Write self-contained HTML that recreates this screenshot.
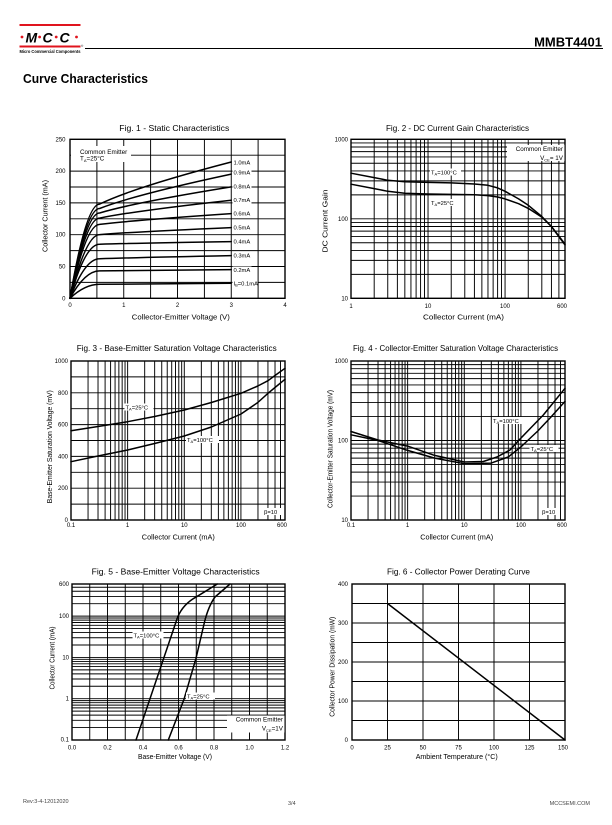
<!DOCTYPE html>
<html>
<head>
<meta charset="utf-8">
<style>
html,body{margin:0;padding:0;background:#fff;}
body{width:612px;height:825px;overflow:hidden;position:relative;}
svg{position:absolute;left:0;top:0;}
text{font-family:"Liberation Sans",Arial,sans-serif;fill:#000;}
.g{stroke:#000;stroke-width:0.95;fill:none;}
.f{stroke:#000;stroke-width:1.4;fill:none;}
.c{stroke:#000;stroke-width:1.5;fill:none;stroke-linejoin:round;stroke-linecap:round;}
.t{font-size:8.2px;}
.a{font-size:7.4px;}
.k{font-size:6px;}
.l{font-size:5.8px;}
</style>
</head>
<body>
<svg width="612" height="825" viewBox="0 0 612 825" xmlns="http://www.w3.org/2000/svg">
<!-- Header -->
<rect x="19.5" y="24" width="61" height="2" fill="#e0141e"/>
<rect x="19.5" y="45.5" width="61" height="2" fill="#e0141e"/>
<circle cx="22" cy="37" r="1.4" fill="#e0141e"/>
<circle cx="39.6" cy="37" r="1.4" fill="#e0141e"/>
<circle cx="56.2" cy="37" r="1.4" fill="#e0141e"/>
<circle cx="76.5" cy="37" r="1.4" fill="#e0141e"/>
<text x="25.5" y="42.5" style="font-size:14px;font-weight:bold;font-style:italic;">M</text>
<text x="42.5" y="42.5" style="font-size:14px;font-weight:bold;font-style:italic;">C</text>
<text x="59.5" y="42.5" style="font-size:14px;font-weight:bold;font-style:italic;">C</text>
<text x="19.5" y="53" style="font-size:4.4px;font-weight:bold;" textLength="61" lengthAdjust="spacingAndGlyphs">Micro Commercial Components</text>
<text x="81" y="47" style="font-size:3px;">®</text>
<line x1="85" y1="48.5" x2="603" y2="48.5" stroke="#000" stroke-width="1"/>
<text x="602" y="46.5" text-anchor="end" style="font-size:13px;font-weight:bold;">MMBT4401</text>
<text x="23" y="83" style="font-size:12.5px;font-weight:bold;" textLength="125" lengthAdjust="spacingAndGlyphs">Curve Characteristics</text>

<!-- ================= Fig 1 ================= -->
<text class="t" x="119.3" y="130.8" textLength="110" lengthAdjust="spacingAndGlyphs">Fig. 1 - Static Characteristics</text>
<path class="g" d="M96.9,139.3V298.3M123.75,139.3V298.3M150.6,139.3V298.3M177.5,139.3V298.3M204.4,139.3V298.3M231.25,139.3V298.3M258.1,139.3V298.3M70,155.2H285M70,171.1H285M70,187H285M70,202.9H285M70,218.8H285M70,234.7H285M70,250.6H285M70,266.5H285M70,282.4H285"/>
<rect class="f" x="70" y="139.3" width="215" height="159"/>
<g class="c">
<path d="M70,298.3Q85,284.3 99.6,284.3Q134.5,283.9 231.25,283.3"/>
<path d="M70,298.3Q85,270.9 99.6,270.9Q134.5,270.4 231.25,269.6"/>
<path d="M70,298.3Q85,258.8 99.6,258.8Q134.5,257.5 231.25,255.6"/>
<path d="M70,298.3Q85,244.2 99.6,244.2Q134.5,243.2 231.25,241.6"/>
<path d="M70,298.3Q86,234.6 99.6,234.6Q134.5,231.8 231.25,227.6"/>
<path d="M70,298.3Q86,224.4 99.6,224.4Q134.5,220.1 231.25,213.6"/>
<path d="M70,298.3Q86,218.1 99.6,218.1Q134.5,210.9 231.25,200.2"/>
<path d="M70,298.3Q86,213 99.6,213Q134.5,202.5 231.25,186.9"/>
<path d="M70,298.3Q86,208.5 99.6,208.5Q134.5,194.8 231.25,174.1"/>
<path d="M70,298.3Q86,204.1 99.6,204.1Q134.5,187.2 231.25,162"/>
</g>
<rect x="71" y="146" width="60" height="16" fill="#fff"/>
<text class="l" x="80" y="154" style="font-size:6.3px;">Common Emitter</text>
<text class="l" x="80" y="160.6" style="font-size:6.3px;">T<tspan font-size="4" dy="1.3">A</tspan><tspan dy="-1.3">=25°C</tspan></text>
<g fill="#fff">
<rect x="232.5" y="158.8" width="19" height="7"/>
<rect x="232.5" y="169.2" width="19" height="7"/>
<rect x="232.5" y="183.2" width="19" height="7"/>
<rect x="232.5" y="196.5" width="19" height="7"/>
<rect x="232.5" y="210.2" width="19" height="7"/>
<rect x="232.5" y="224.2" width="19" height="7"/>
<rect x="232.5" y="238.2" width="19" height="7"/>
<rect x="232.5" y="252.2" width="19" height="7"/>
<rect x="232.5" y="266.5" width="19" height="7"/>
<rect x="232.5" y="279.8" width="25" height="7"/>
</g>
<g class="l">
<text x="233.5" y="164.3">1.0mA</text>
<text x="233.5" y="174.7">0.9mA</text>
<text x="233.5" y="188.7">0.8mA</text>
<text x="233.5" y="202">0.7mA</text>
<text x="233.5" y="215.7">0.6mA</text>
<text x="233.5" y="229.7">0.5mA</text>
<text x="233.5" y="243.7">0.4mA</text>
<text x="233.5" y="257.7">0.3mA</text>
<text x="233.5" y="272">0.2mA</text>
<text x="233.5" y="285.3">I<tspan font-size="4" dy="1.3">B</tspan><tspan dy="-1.3">=0.1mA</tspan></text>
</g>
<g class="k" text-anchor="end">
<text x="65.5" y="141.3">250</text>
<text x="65.5" y="173">200</text>
<text x="65.5" y="204.8">150</text>
<text x="65.5" y="236.6">100</text>
<text x="65.5" y="268.5">50</text>
<text x="65.5" y="300.3">0</text>
</g>
<g class="k" text-anchor="middle">
<text x="70" y="307">0</text>
<text x="123.75" y="307">1</text>
<text x="177.5" y="307">2</text>
<text x="231.25" y="307">3</text>
<text x="285" y="307">4</text>
</g>
<text class="a" x="180.8" y="319.3" text-anchor="middle" textLength="98" lengthAdjust="spacingAndGlyphs">Collector-Emitter Voltage (V)</text>
<text class="a" transform="translate(47.6,216) rotate(-90)" text-anchor="middle" textLength="72" lengthAdjust="spacingAndGlyphs">Collector Current (mA)</text>

<!-- ================= Fig 2 ================= -->
<text class="t" x="386" y="130.8" textLength="143" lengthAdjust="spacingAndGlyphs">Fig. 2 - DC Current Gain Characteristics</text>
<path class="g" d="M374.19,139.3V298.3M387.75,139.3V298.3M397.38,139.3V298.3M404.84,139.3V298.3M410.94,139.3V298.3M416.1,139.3V298.3M420.57,139.3V298.3M424.5,139.3V298.3M428.03,139.3V298.3M451.22,139.3V298.3M464.78,139.3V298.3M474.41,139.3V298.3M481.87,139.3V298.3M487.97,139.3V298.3M493.13,139.3V298.3M497.6,139.3V298.3M501.53,139.3V298.3M505.06,139.3V298.3M528.25,139.3V298.3M541.81,139.3V298.3M551.44,139.3V298.3M558.9,139.3V298.3M351,274.37H565M351,260.37H565M351,250.44H565M351,242.73H565M351,236.44H565M351,231.11H565M351,226.5H565M351,222.44H565M351,218.8H565M351,194.87H565M351,180.87H565M351,170.94H565M351,163.23H565M351,156.94H565M351,151.61H565M351,147H565M351,142.94H565"/>
<rect class="f" x="351" y="139.3" width="214" height="159"/>
<polyline class="c" points="351,173.2 374.2,177.6 387.8,180.3 404.8,181.8 428,182.4 451.2,182.9 474.4,184 488,185.3 497.6,187.9 505.1,191.3 518.6,198.9 528.3,205.3 541.8,216.5 551.4,226.5 565,244.1"/>
<polyline class="c" points="351,184.2 374.2,188.6 387.8,191.3 404.8,193.2 428,194 451.2,194.4 474.4,194.8 488,195.6 497.6,197 505.1,198.9 518.6,203.7 528.3,208.4 541.8,217.1 551.4,226.5 565,244.9"/>
<rect x="430" y="168.5" width="31" height="7" fill="#fff"/>
<text class="l" x="431" y="174.3">T<tspan font-size="4" dy="1.3">A</tspan><tspan dy="-1.3">=100°C</tspan></text>
<rect x="430" y="199" width="27" height="7" fill="#fff"/>
<text class="l" x="431" y="204.8">T<tspan font-size="4" dy="1.3">A</tspan><tspan dy="-1.3">=25°C</tspan></text>
<rect x="507" y="145" width="57.5" height="16" fill="#fff"/>
<text class="l" x="563" y="150.8" text-anchor="end" style="font-size:6.3px;">Common Emitter</text>
<text class="l" x="563" y="160" text-anchor="end" style="font-size:6.3px;">V<tspan font-size="4" dy="1.3">CE</tspan><tspan dy="-1.3">= 1V</tspan></text>
<g class="k" text-anchor="end">
<text x="348" y="141.3">1000</text>
<text x="348" y="220.8">100</text>
<text x="348" y="300.3">10</text>
</g>
<g class="k" text-anchor="middle">
<text x="351" y="308">1</text>
<text x="428" y="308">10</text>
<text x="505" y="308">100</text>
<text x="562" y="308">600</text>
</g>
<text class="a" x="463.5" y="319.3" text-anchor="middle" textLength="81" lengthAdjust="spacingAndGlyphs">Collector Current (mA)</text>
<text class="a" transform="translate(327.7,221) rotate(-90)" text-anchor="middle" textLength="63" lengthAdjust="spacingAndGlyphs">DC Current Gain</text>

<!-- ================= Fig 3 ================= -->
<text class="t" x="76.7" y="351" textLength="200" lengthAdjust="spacingAndGlyphs">Fig. 3 - Base-Emitter Saturation Voltage Characteristics</text>
<path class="g" d="M88.05,361V520M98.02,361V520M105.1,361V520M110.59,361V520M115.07,361V520M118.87,361V520M122.15,361V520M125.04,361V520M127.64,361V520M144.69,361V520M154.66,361V520M161.74,361V520M167.23,361V520M171.71,361V520M175.51,361V520M178.79,361V520M181.68,361V520M184.28,361V520M201.33,361V520M211.3,361V520M218.38,361V520M223.87,361V520M228.35,361V520M232.15,361V520M235.43,361V520M238.32,361V520M240.92,361V520M257.97,361V520M267.94,361V520M275.02,361V520M280.51,361V520M71,504.1H285M71,488.2H285M71,472.3H285M71,456.4H285M71,440.5H285M71,424.6H285M71,408.7H285M71,392.8H285M71,376.9H285"/>
<rect class="f" x="71" y="361" width="214" height="159"/>
<polyline class="c" points="71,430.7 98,426.5 127.6,421.7 154.6,416.5 184.3,410 211.4,402.5 241,393.3 257.8,386 268,380.7 275,375.5 285,368.3"/>
<polyline class="c" points="71,461.7 98,456 127.6,450 154.6,443.5 184.3,436 211.4,427 241,414 257.8,402.5 268,393.3 275,387.5 285,379.3"/>
<rect x="124.5" y="403.5" width="29" height="7" fill="#fff"/>
<text class="l" x="125.5" y="409.3">T<tspan font-size="4" dy="1.3">A</tspan><tspan dy="-1.3">=25°C</tspan></text>
<rect x="186" y="436" width="33" height="7" fill="#fff"/>
<text class="l" x="187" y="441.8">T<tspan font-size="4" dy="1.3">A</tspan><tspan dy="-1.3">=100°C</tspan></text>
<rect x="263" y="508" width="18" height="7" fill="#fff"/>
<text class="l" x="264" y="513.8">β=10</text>
<g class="k" text-anchor="end">
<text x="68" y="363">1000</text>
<text x="68" y="394.8">800</text>
<text x="68" y="426.6">600</text>
<text x="68" y="458.4">400</text>
<text x="68" y="490.2">200</text>
<text x="68" y="522">0</text>
</g>
<g class="k" text-anchor="middle">
<text x="71" y="527">0.1</text>
<text x="127.6" y="527">1</text>
<text x="184.3" y="527">10</text>
<text x="241" y="527">100</text>
<text x="282" y="527">600</text>
</g>
<text class="a" x="178.3" y="539.3" text-anchor="middle" textLength="73" lengthAdjust="spacingAndGlyphs">Collector Current (mA)</text>
<text class="a" transform="translate(52,446.7) rotate(-90)" text-anchor="middle" textLength="113" lengthAdjust="spacingAndGlyphs">Base-Emitter Saturation Voltage (mV)</text>

<!-- ================= Fig 4 ================= -->
<text class="t" x="353" y="351" textLength="205" lengthAdjust="spacingAndGlyphs">Fig. 4 - Collector-Emitter Saturation Voltage Characteristics</text>
<path class="g" d="M368.05,361V520M378.02,361V520M385.1,361V520M390.59,361V520M395.07,361V520M398.87,361V520M402.15,361V520M405.04,361V520M407.64,361V520M424.69,361V520M434.66,361V520M441.74,361V520M447.23,361V520M451.71,361V520M455.51,361V520M458.79,361V520M461.68,361V520M464.28,361V520M481.33,361V520M491.3,361V520M498.38,361V520M503.87,361V520M508.35,361V520M512.15,361V520M515.43,361V520M518.32,361V520M520.92,361V520M537.97,361V520M547.94,361V520M555.02,361V520M560.51,361V520M351,496.07H565M351,482.07H565M351,472.14H565M351,464.43H565M351,458.14H565M351,452.81H565M351,448.2H565M351,444.14H565M351,440.5H565M351,416.57H565M351,402.57H565M351,392.64H565M351,384.93H565M351,378.64H565M351,373.31H565M351,368.7H565M351,364.64H565"/>
<rect class="f" x="351" y="361" width="214" height="159"/>
<polyline class="c" points="351,431.5 378,440 407.6,446.1 434.6,455.4 464.2,462 483.3,461.5 497,457 510,450 520.7,438.3 532,426.6 543.3,415 554,401.9 565,388.3"/>
<polyline class="c" points="351,434.8 378,440.5 407.6,450.4 434.6,458.1 464.2,463.7 491.2,463.1 508.2,457 520.8,447 537.8,431 551,417 565,401.4"/>
<rect x="492" y="417" width="32" height="7" fill="#fff"/>
<text class="l" x="493" y="422.8">T<tspan font-size="4" dy="1.3">A</tspan><tspan dy="-1.3">=100°C</tspan></text>
<rect x="529.5" y="445" width="29" height="7" fill="#fff"/>
<text class="l" x="530.5" y="450.8">T<tspan font-size="4" dy="1.3">A</tspan><tspan dy="-1.3">=25°C</tspan></text>
<rect x="541" y="508" width="19" height="7" fill="#fff"/>
<text class="l" x="542" y="513.8">β=10</text>
<g class="k" text-anchor="end">
<text x="348" y="363">1000</text>
<text x="348" y="442.5">100</text>
<text x="348" y="522">10</text>
</g>
<g class="k" text-anchor="middle">
<text x="351" y="527">0.1</text>
<text x="407.6" y="527">1</text>
<text x="464.3" y="527">10</text>
<text x="521" y="527">100</text>
<text x="562" y="527">600</text>
</g>
<text class="a" x="456.7" y="539.3" text-anchor="middle" textLength="73" lengthAdjust="spacingAndGlyphs">Collector Current (mA)</text>
<text class="a" transform="translate(332.7,449) rotate(-90)" text-anchor="middle" textLength="118" lengthAdjust="spacingAndGlyphs">Collector-Emitter Saturation Voltage (mV)</text>

<!-- ================= Fig 5 ================= -->
<text class="t" x="91.7" y="574.5" textLength="168" lengthAdjust="spacingAndGlyphs">Fig. 5 - Base-Emitter Voltage Characteristics</text>
<path class="g" d="M89.75,584V740M107.5,584V740M125.25,584V740M143,584V740M160.75,584V740M178.5,584V740M196.25,584V740M214,584V740M231.75,584V740M249.5,584V740M267.25,584V740M72,727.57H285M72,720.3H285M72,715.14H285M72,711.14H285M72,707.87H285M72,705.11H285M72,702.71H285M72,700.6H285M72,698.71H285M72,686.28H285M72,679.01H285M72,673.85H285M72,669.85H285M72,666.58H285M72,663.82H285M72,661.42H285M72,659.31H285M72,657.42H285M72,644.99H285M72,637.72H285M72,632.56H285M72,628.56H285M72,625.29H285M72,622.53H285M72,620.13H285M72,618.02H285M72,616.13H285M72,603.7H285M72,596.43H285M72,591.27H285M72,587.27H285"/>
<rect class="f" x="72" y="584" width="213" height="156"/>
<path class="c" d="M136,740L177.5,617.5Q183,604 196.7,596.7L217.3,584"/>
<path class="c" d="M168.3,740L184,699.3L196,658.3L204.5,622Q208.5,606 215,597L230,584"/>
<rect x="132.5" y="631.5" width="31" height="7" fill="#fff"/>
<text class="l" x="133.5" y="637.3">T<tspan font-size="4" dy="1.3">A</tspan><tspan dy="-1.3">=100°C</tspan></text>
<rect x="186" y="692.5" width="29" height="7" fill="#fff"/>
<text class="l" x="187" y="698.3">T<tspan font-size="4" dy="1.3">A</tspan><tspan dy="-1.3">=25°C</tspan></text>
<rect x="227" y="715.5" width="57.5" height="17" fill="#fff"/>
<text class="l" x="283" y="721.5" text-anchor="end" style="font-size:6.3px;">Common Emitter</text>
<text class="l" x="283" y="730.5" text-anchor="end" style="font-size:6.3px;">V<tspan font-size="4" dy="1.3">CE</tspan><tspan dy="-1.3">=1V</tspan></text>
<g class="k" text-anchor="end">
<text x="69" y="586">600</text>
<text x="69" y="618">100</text>
<text x="69" y="659.4">10</text>
<text x="69" y="700.7">1</text>
<text x="69" y="741.5">0.1</text>
</g>
<g class="k" text-anchor="middle">
<text x="72" y="749.5">0.0</text>
<text x="107.5" y="749.5">0.2</text>
<text x="143" y="749.5">0.4</text>
<text x="178.5" y="749.5">0.6</text>
<text x="214" y="749.5">0.8</text>
<text x="249.5" y="749.5">1.0</text>
<text x="285" y="749.5">1.2</text>
</g>
<text class="a" x="175" y="759" text-anchor="middle" textLength="74" lengthAdjust="spacingAndGlyphs">Base-Emitter Voltage (V)</text>
<text class="a" transform="translate(54.4,658) rotate(-90)" text-anchor="middle" textLength="63" lengthAdjust="spacingAndGlyphs">Collector Current (mA)</text>

<!-- ================= Fig 6 ================= -->
<text class="t" x="387" y="574.5" textLength="143" lengthAdjust="spacingAndGlyphs">Fig. 6 - Collector Power Derating Curve</text>
<path class="g" d="M387.5,584V740M423,584V740M458.5,584V740M494,584V740M529.5,584V740M352,603.5H565M352,623H565M352,642.5H565M352,662H565M352,681.5H565M352,701H565M352,720.5H565"/>
<rect class="f" x="352" y="584" width="213" height="156"/>
<path class="c" d="M387.5,603.5L565,740"/>
<g class="k" text-anchor="end">
<text x="348" y="586">400</text>
<text x="348" y="625">300</text>
<text x="348" y="664">200</text>
<text x="348" y="703">100</text>
<text x="348" y="742">0</text>
</g>
<g class="k" text-anchor="middle">
<text x="352" y="749.5">0</text>
<text x="387.5" y="749.5">25</text>
<text x="423" y="749.5">50</text>
<text x="458.5" y="749.5">75</text>
<text x="494" y="749.5">100</text>
<text x="529.5" y="749.5">125</text>
<text x="563" y="749.5">150</text>
</g>
<text class="a" x="456.7" y="759" text-anchor="middle" textLength="82" lengthAdjust="spacingAndGlyphs">Ambient Temperature (°C)</text>
<text class="a" transform="translate(334.4,666.7) rotate(-90)" text-anchor="middle" textLength="100" lengthAdjust="spacingAndGlyphs">Collector Power Dissipation  (mW)</text>

<!-- Footer -->
<text x="23" y="803" style="font-size:5.5px;fill:#444;">Rev:3-4-12012020</text>
<text x="288" y="805" style="font-size:5.5px;fill:#444;">3/4</text>
<text x="590" y="805" text-anchor="end" style="font-size:5.5px;fill:#444;">MCCSEMI.COM</text>
</svg>
</body>
</html>
